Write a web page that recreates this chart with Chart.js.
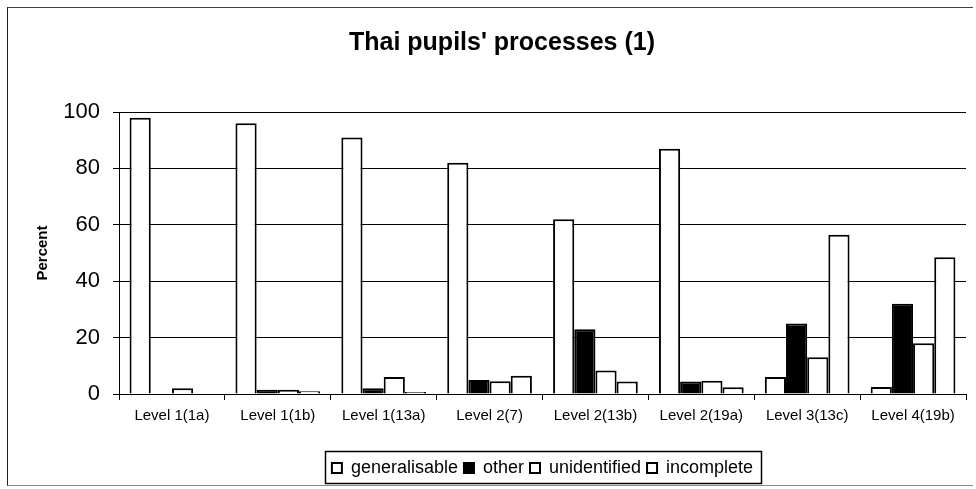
<!DOCTYPE html>
<html>
<head>
<meta charset="utf-8">
<title>Thai pupils' processes (1)</title>
<script src="https://cdn.jsdelivr.net/npm/chart.js@4.4.1/dist/chart.umd.min.js"></script>
<style>
    html, body { margin: 0; padding: 0; background: #fff; }
    #wrap { position: relative; width: 976px; height: 489px; }
    #frame {
        position: absolute; left: 7px; top: 7px; width: 966px; height: 479px;
        border-left: 1px solid #222; border-top: 1px solid #444; border-bottom: 1px solid #888;
        box-sizing: border-box; pointer-events: none;
    }
    canvas { position: absolute; left: 0; top: 0; }
</style>
</head>
<body>
<div id="wrap">
    <canvas id="processChart" width="976" height="489"></canvas>
    <div id="frame"></div>
</div>
<script>
// Data
const categories = ['Level 1(1a)', 'Level 1(1b)', 'Level 1(13a)', 'Level 2(7)', 'Level 2(13b)', 'Level 2(19a)', 'Level 3(13c)', 'Level 4(19b)'];
const generalisable = [98, 96, 91, 82, 62, 87, 6, 2.5];
const other = [0, 1.5, 2, 5, 23, 4.4, 25, 32];
const unidentified = [2, 1.5, 6, 4.5, 8.3, 4.7, 13, 18];
const incomplete = [0, 1, 0.7, 6.5, 4.4, 2.4, 56.5, 48.5];
const yTicks = [0, 20, 40, 60, 80, 100];

const FONT = "'Liberation Sans', Arial, Helvetica, sans-serif";

// title and legend sit a bit right of the canvas middle in the original
const shiftBlocks = {
    id: 'shiftBlocks',
    afterLayout(chart) {
        if (chart.titleBlock) { chart.titleBlock.left += 19; chart.titleBlock.right += 19; }
        if (chart.legend) {
            const mid = (chart.chartArea.left + chart.chartArea.right) / 2;
            const dx = mid - (chart.legend.left + chart.legend.right) / 2;
            chart.legend.left += dx; chart.legend.right += dx;
        }
    }
};

// box around the legend, like the excel one
const legendBox = {
    id: 'legendBox',
    afterDraw(chart) {
        const boxes = chart.legend.legendHitBoxes;
        if (!boxes || !boxes.length) return;
        let l = Infinity, r = -Infinity, t = Infinity, b = -Infinity;
        boxes.forEach(h => {
            l = Math.min(l, h.left); r = Math.max(r, h.left + h.width);
            t = Math.min(t, h.top); b = Math.max(b, h.top + h.height);
        });
        const ctx = chart.ctx;
        ctx.save();
        ctx.strokeStyle = '#000';
        ctx.lineWidth = 1.5;
        ctx.strokeRect(Math.round(l) - 6.5, Math.round(t) - 7.5, Math.round(r - l) + 15, Math.round(b - t) + 14);
        ctx.restore();
    }
};

function series(label, data, fill) {
    return {
        label: label,
        data: data,
        backgroundColor: fill,
        borderColor: '#000',
        borderWidth: 2,
        categoryPercentage: 0.8,
        barPercentage: 1.0
    };
}

new Chart(document.getElementById('processChart'), {
    type: 'bar',
    data: {
        labels: categories,
        datasets: [
            series('generalisable', generalisable, '#fff'),
            series('other', other, '#000'),
            series('unidentified', unidentified, '#fff'),
            series('incomplete', incomplete, '#fff')
        ]
    },
    options: {
        responsive: false,
        animation: false,
        layout: { padding: { left: 0, right: 10, top: 13, bottom: 2 } },
        plugins: {
            title: {
                display: true,
                text: "Thai pupils' processes (1)",
                color: '#000',
                font: { family: FONT, size: 25, weight: 'bold' },
                padding: { top: 15, bottom: 54 }
            },
            legend: {
                position: 'bottom',
                labels: {
                    color: '#000',
                    font: { family: FONT, size: 18 },
                    boxWidth: 10,
                    boxHeight: 10,
                    padding: 6
                }
            },
            tooltip: { enabled: false }
        },
        scales: {
            x: {
                grid: { display: true, drawOnChartArea: false, color: '#000', tickLength: 6, offset: true },
                border: { color: '#000', width: 1 },
                ticks: { color: '#000', font: { family: FONT, size: 15 }, padding: 7, maxRotation: 0 },
                afterFit(scale) { scale.height = 59; }
            },
            y: {
                min: 0,
                max: 100,
                afterBuildTicks(scale) { scale.ticks = yTicks.map(v => ({ value: v })); },
                grid: { color: '#000', lineWidth: 1, tickLength: 6 },
                border: { color: '#000', width: 1 },
                ticks: { color: '#000', font: { family: FONT, size: 22 }, padding: 13 },
                title: {
                    display: true,
                    text: 'Percent',
                    color: '#000',
                    font: { family: FONT, size: 15, weight: 'bold' },
                    padding: { top: 34, bottom: 0 }
                },
                afterFit(scale) { scale.width = 119; }
            }
        }
    },
    plugins: [shiftBlocks, legendBox]
});
</script>
</body>
</html>
